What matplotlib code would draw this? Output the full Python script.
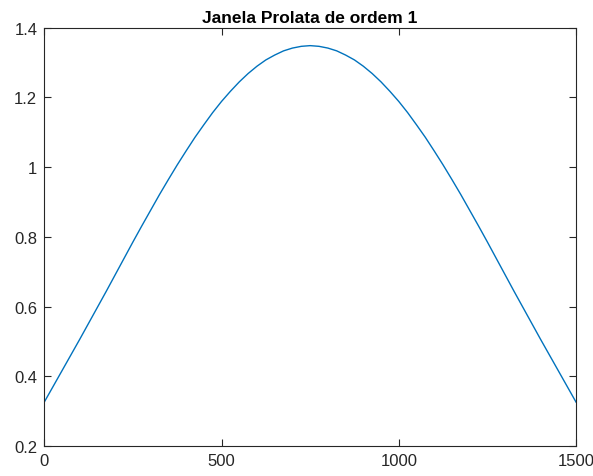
import matplotlib
matplotlib.use("Agg")
import matplotlib.pyplot as plt
from matplotlib.ticker import FuncFormatter

# Data (samples every 25, curve is symmetric about 750)
x_vals = list(range(0, 1501, 25))
y_left = [0.326, 0.371, 0.416, 0.461, 0.506, 0.552, 0.598, 0.644, 0.691,
          0.738, 0.785, 0.831, 0.876, 0.921, 0.964, 1.006, 1.046, 1.085,
          1.121, 1.156, 1.188, 1.217, 1.244, 1.268, 1.289, 1.307, 1.321,
          1.333, 1.341, 1.346, 1.348]
y_vals = y_left + y_left[-2::-1]
x_ticks = [0, 500, 1000, 1500]
y_ticks = [0.2, 0.4, 0.6, 0.8, 1.0, 1.2, 1.4]
title = "Janela Prolata de ordem 1"

plt.rcParams['font.family'] = ['Liberation Sans', 'DejaVu Sans']

fig = plt.figure(figsize=(5.93, 4.77), dpi=100)
ax = fig.add_axes([44.3 / 593, 1 - 447 / 477, (576 - 44.3) / 593, (447 - 28.5) / 477])
ax.plot(x_vals, y_vals, color='#0072BD', linewidth=1.0)
ax.set_xlim(0, 1500)
ax.set_ylim(0.2, 1.4)
ax.set_xticks(x_ticks)
ax.set_yticks(y_ticks)
ax.yaxis.set_major_formatter(FuncFormatter(lambda v, p: f"{v:g}"))
ax.tick_params(direction='in', length=5, width=0.8, colors='#262626', labelsize=12,
               top=True, right=True, pad=5)
for s in ax.spines.values():
    s.set_color('#262626')
    s.set_linewidth(0.8)
ax.set_title(title, fontsize=12.5, fontweight='bold', color='black', pad=4)
fig.savefig("out.png", dpi=100)
